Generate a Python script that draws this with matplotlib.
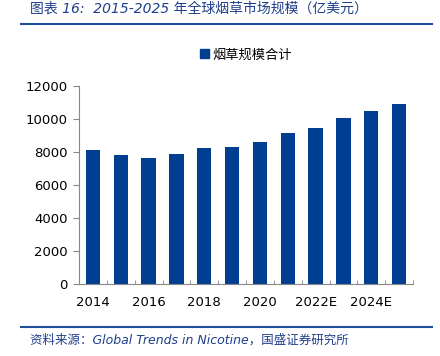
import matplotlib.pyplot as plt
from matplotlib.lines import Line2D
from matplotlib.patches import Patch

plt.rcParams['font.family'] = ['DejaVu Sans', 'Noto Sans CJK SC']

# market size, 100m USD
years = ['2014', '2015', '2016', '2017', '2018', '2019', '2020', '2021',
         '2022E', '2023E', '2024E', '2025E']
market = [8130, 7800, 7620, 7870, 8230, 8310, 8590, 9160, 9480, 10060, 10490, 10910]

title = '图表 16:  2015-2025 年全球烟草市场规模（亿美元）'
source = '资料来源：Global Trends in Nicotine，国盛证券研究所'
legend_label = '烟草规模合计'

bar_color = '#003E92'
line_color = '#1F4E9C'

fig = plt.figure(figsize=(4.4, 3.56), dpi=100)
ax = fig.add_axes([79 / 440, 1 - 284 / 356, (413 - 79) / 440, (284 - 86) / 356])

x = list(range(len(years)))
ax.bar(x, market, width=0.52, color=bar_color, zorder=2)

ax.set_xlim(-0.5, len(years) - 0.5)
ax.set_ylim(0, 12000)
ax.set_yticks(range(0, 12001, 2000))
ax.tick_params(axis='y', labelsize=9.5, length=4, color='#888888', pad=4)

# category boundaries as minor ticks, labels every other year
ax.set_xticks([i - 0.5 for i in range(len(years) + 1)], minor=True)
ax.set_xticks(x[::2])
ax.set_xticklabels(years[::2], fontsize=9.5)
ax.tick_params(axis='x', which='major', length=0, pad=9)
ax.tick_params(axis='x', which='minor', direction='in', length=3, color='#888888')

for s in ['top', 'right']:
    ax.spines[s].set_visible(False)
for s in ['left', 'bottom']:
    ax.spines[s].set_color('#888888')
    ax.spines[s].set_linewidth(0.8)

handle = Patch(facecolor=bar_color, edgecolor=bar_color)
ax.legend([handle], [legend_label], loc='center', bbox_to_anchor=(0.5, 1.157),
          frameon=False, fontsize=9.5, handlelength=0.7, handleheight=0.7,
          handletextpad=0.3)

fig.text(30 / 440, 1 - 9 / 356, title, fontsize=10, style='italic',
         color='#1F3F8A', va='center', ha='left')
fig.add_artist(Line2D([21 / 440, 432 / 440], [1 - 24 / 356, 1 - 24 / 356],
                      color=line_color, lw=1.5))
fig.add_artist(Line2D([21 / 440, 432 / 440], [1 - 327 / 356, 1 - 327 / 356],
                      color=line_color, lw=1.5))
fig.text(30 / 440, 1 - 340 / 356, source, fontsize=9, style='italic',
         color='#1F3F8A', va='center', ha='left')

fig.savefig('out.png', dpi=100)
